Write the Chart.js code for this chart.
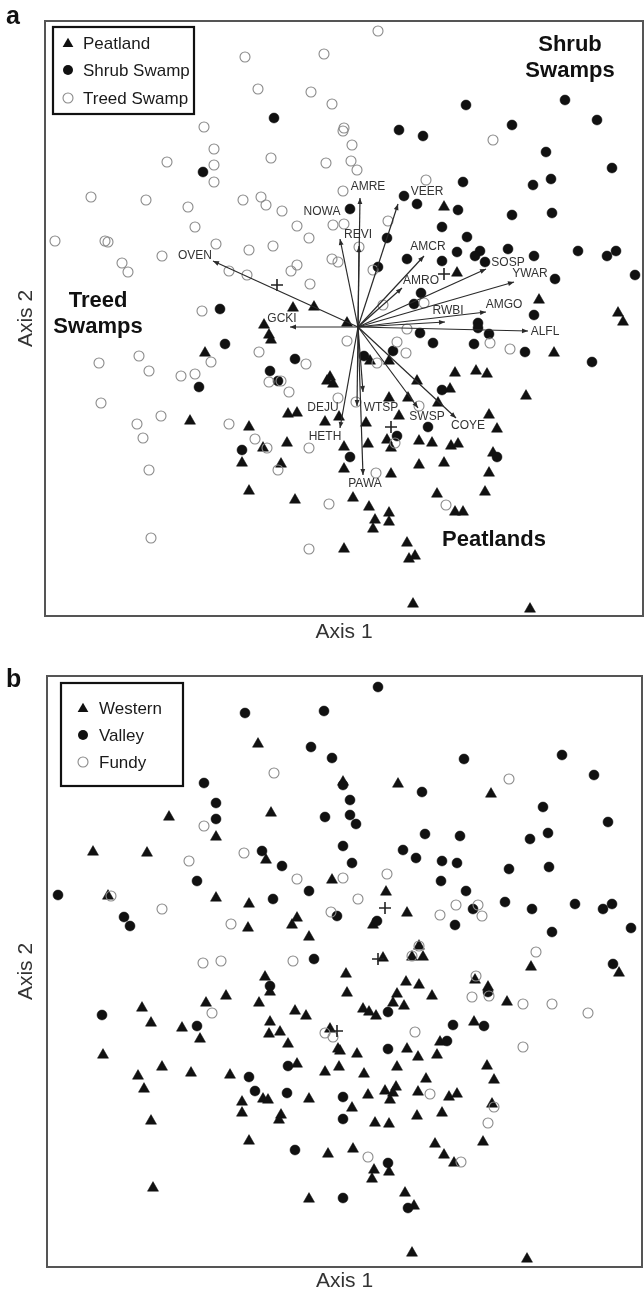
<!DOCTYPE html>
<html><head><meta charset="utf-8">
<script src="https://cdn.jsdelivr.net/npm/chart.js@4.4.1/dist/chart.umd.min.js"></script>
<style>
html,body{margin:0;padding:0;background:#fff;width:644px;height:1294px;overflow:hidden}
.wrap{position:absolute;left:0;width:644px;height:647px}
canvas{display:block}
</style></head><body>
<div class="wrap" style="top:0"><canvas id="ca" width="644" height="647"></canvas></div>
<div class="wrap" style="top:647px"><canvas id="cb" width="644" height="647"></canvas></div>
<script>
// ---------- Panel a: wetland types (ordination scores, arbitrary units) ----------
const peatland = [[24.8,30.8],[26.9,30.9],[39.9,40.9],[41.2,34.3],[49.4,31.6],[57.3,30.3],[57.8,29.4],[30.2,29.3],[21.9,29.1],[22.4,28.1],[22.6,27.6],[16.0,26.3],[28.2,23.5],[28.8,23.2],[28.5,23.9],[24.3,20.2],[25.2,20.3],[28.0,19.4],[29.4,19.9],[14.5,19.5],[20.4,18.9],[24.2,17.3],[21.8,16.8],[29.9,16.9],[19.7,15.3],[23.6,15.2],[29.9,14.7],[20.4,12.5],[25.0,11.6],[29.9,6.7],[50.9,26.3],[32.5,25.5],[34.4,25.5],[41.0,24.3],[43.1,24.5],[44.2,24.2],[37.2,23.5],[40.5,22.7],[48.1,22.0],[34.4,21.8],[36.3,21.8],[39.3,21.3],[35.4,20.0],[32.1,19.3],[44.4,20.1],[45.2,18.7],[37.4,17.5],[38.7,17.3],[40.6,17.0],[41.3,17.2],[34.2,17.6],[34.6,16.8],[32.3,17.2],[44.8,16.3],[37.4,15.1],[39.9,15.3],[34.6,14.2],[44.4,14.3],[44.0,12.4],[39.2,12.2],[30.8,11.8],[32.4,10.9],[34.4,10.3],[34.4,9.4],[33.0,9.6],[32.8,8.7],[41.0,10.4],[41.8,10.4],[36.2,7.3],[37.0,6.0],[36.4,5.7],[36.8,1.2],[48.5,0.7]];
const shrubSwamp = [[22.9,49.8],[15.8,44.4],[17.5,30.7],[30.5,40.7],[42.1,51.1],[52.0,51.6],[35.4,48.6],[37.8,48.0],[46.7,49.1],[55.2,49.6],[50.1,46.4],[56.7,44.8],[41.8,43.4],[48.8,43.1],[50.6,43.7],[46.7,40.1],[50.7,40.3],[35.9,42.0],[37.2,41.2],[41.3,40.6],[39.7,38.9],[42.2,37.9],[34.2,37.8],[33.3,34.9],[36.2,35.7],[39.7,35.5],[41.2,36.4],[43.5,36.5],[43.0,36.0],[44.0,35.4],[46.3,36.7],[48.9,36.0],[51.0,33.7],[53.3,36.5],[56.2,36.0],[57.1,36.5],[59.0,34.1],[37.6,32.3],[36.9,31.2],[48.9,30.1],[18.0,27.2],[15.4,22.9],[25.0,25.7],[22.5,24.5],[23.3,23.5],[19.7,16.6],[30.5,15.9],[43.3,29.3],[43.3,28.8],[37.5,28.3],[38.8,27.3],[44.4,28.2],[42.9,27.2],[48.0,26.4],[54.7,25.4],[34.8,26.5],[31.9,26.0],[39.7,22.6],[38.3,18.9],[35.2,18.0],[45.2,15.9]];
const treedSwamp = [[20.0,55.9],[27.9,56.2],[21.3,52.7],[26.6,52.4],[28.7,51.2],[29.9,48.8],[29.8,48.5],[30.7,47.1],[30.6,45.5],[31.2,44.6],[15.9,48.9],[16.9,46.7],[16.9,45.1],[16.9,43.4],[12.2,45.4],[22.6,45.8],[28.1,45.3],[29.8,42.5],[4.6,41.9],[10.1,41.6],[14.3,40.9],[19.8,41.6],[21.6,41.9],[22.1,41.1],[23.7,40.5],[15.0,38.9],[25.2,39.0],[26.4,37.8],[28.8,39.1],[29.9,39.2],[1.0,37.5],[6.0,37.5],[6.3,37.4],[17.1,37.2],[20.4,36.6],[22.8,37.0],[11.7,36.0],[7.7,35.3],[8.3,34.4],[18.4,34.5],[20.2,34.1],[24.6,34.5],[25.2,35.1],[26.5,33.2],[28.7,35.7],[29.3,35.4],[15.7,30.5],[33.3,58.5],[44.8,47.6],[38.1,43.6],[34.3,39.5],[31.4,36.9],[32.8,34.6],[33.8,31.1],[37.9,31.3],[5.4,25.3],[9.4,26.0],[10.4,24.5],[13.6,24.0],[15.0,24.2],[16.6,25.4],[21.4,26.4],[26.1,25.2],[22.4,23.4],[23.6,23.5],[24.4,22.4],[30.2,27.5],[29.3,21.8],[5.6,21.3],[11.6,20.0],[9.2,19.2],[9.8,17.8],[18.4,19.2],[21.0,17.7],[22.2,16.8],[26.4,16.8],[23.3,14.6],[10.4,14.6],[28.4,11.2],[10.6,7.8],[26.4,6.7],[36.2,28.7],[35.2,27.4],[36.1,26.3],[33.2,25.3],[44.5,27.3],[46.5,26.7],[31.1,21.4],[37.4,21.0],[35.0,17.3],[33.1,14.3],[40.1,11.1]];
const centroidsA = [[23.2,33.1],[39.9,34.2],[34.6,18.9]];
// species vectors (biplot): origin and tips
const vecOrigin = [31.3,28.9];
const vecNames = ["OVEN","GCKI","NOWA","REVI","AMRE","VEER","AMCR","AMRO","SOSP","YWAR","AMGO","RWBI","ALFL","WTSP","DEJU","HETH","PAWA","SWSP","COYE"];
const vecTipX = [16.8,24.5,29.5,31.4,31.5,35.3,37.9,35.7,44.1,46.9,44.1,40.0,48.3,31.8,31.2,29.5,31.8,37.3,41.1];
const vecTipY = [35.5,28.9,37.7,37.0,41.8,41.2,36.0,32.8,34.7,33.4,30.4,29.4,28.5,22.4,21.0,18.8,14.1,20.8,19.8];

// ---------- Panel b: regions ----------
const western = [[21.1,52.3],[12.2,45.0],[22.4,45.4],[16.9,43.0],[4.6,41.5],[10.0,41.4],[21.9,40.7],[28.5,38.7],[6.1,37.1],[16.9,36.9],[20.2,36.3],[25.0,34.9],[24.5,34.2],[20.1,33.9],[26.2,33.0],[29.6,48.5],[35.1,48.3],[44.4,47.3],[33.9,37.5],[36.0,35.4],[32.6,34.2],[33.6,30.9],[37.2,32.1],[36.5,31.0],[37.6,31.0],[48.4,30.0],[21.8,29.0],[22.3,27.5],[29.9,29.3],[30.0,27.4],[17.9,27.1],[15.9,26.4],[21.2,26.4],[9.5,25.9],[24.8,25.6],[25.9,25.1],[10.4,24.4],[13.5,23.9],[22.3,24.5],[22.2,23.3],[23.3,23.5],[15.3,22.8],[24.1,22.3],[28.3,23.8],[29.1,21.8],[5.6,21.2],[25.0,20.3],[29.2,20.0],[27.8,19.5],[11.5,20.0],[14.4,19.4],[18.3,19.2],[9.1,19.1],[9.7,17.8],[21.6,16.8],[22.1,16.7],[26.2,16.8],[19.5,16.5],[19.5,15.4],[23.4,15.2],[23.2,14.7],[10.4,14.6],[20.2,12.6],[28.1,11.3],[10.6,7.9],[26.2,6.8],[57.2,29.4],[35.9,28.5],[37.2,28.2],[35.0,27.3],[34.6,26.4],[35.7,26.1],[38.5,27.1],[31.6,25.8],[32.2,25.5],[32.9,25.1],[42.8,28.7],[44.1,28.0],[46.0,26.5],[42.7,24.5],[39.3,22.5],[31.0,21.3],[29.3,21.6],[36.0,21.8],[37.1,21.0],[39.0,21.2],[35.0,20.0],[31.7,19.3],[44.0,20.1],[44.7,18.7],[37.9,18.8],[33.8,17.6],[34.9,18.0],[34.6,17.4],[34.3,16.7],[32.1,17.2],[37.1,17.5],[40.2,17.0],[41.0,17.3],[30.5,15.9],[44.5,16.3],[37.0,15.1],[39.5,15.4],[32.8,14.4],[34.2,14.3],[43.6,12.5],[30.6,11.8],[38.8,12.3],[39.7,11.2],[40.7,10.4],[32.7,9.7],[32.5,8.8],[34.2,9.5],[35.8,7.4],[36.7,6.1],[36.5,1.4],[48.0,0.8]];
const valley = [[19.8,55.4],[27.7,55.6],[26.4,52.0],[28.5,50.9],[15.7,48.4],[16.9,46.4],[16.9,44.8],[27.8,45.0],[29.6,48.2],[30.3,46.7],[30.3,45.2],[30.9,44.3],[29.6,42.1],[30.5,40.4],[21.5,41.6],[23.5,40.1],[15.0,38.6],[26.2,37.6],[22.6,36.8],[1.1,37.2],[7.7,35.0],[8.3,34.1],[29.0,35.1],[26.7,30.8],[33.1,58.0],[41.7,50.8],[51.5,51.2],[54.7,49.2],[37.5,47.5],[49.6,46.0],[56.1,44.5],[37.8,43.3],[41.3,43.1],[48.3,42.8],[50.1,43.4],[35.6,41.7],[36.9,40.9],[39.5,40.6],[41.0,40.4],[46.2,39.8],[50.2,40.0],[39.4,38.6],[41.9,37.6],[45.8,36.5],[48.5,35.8],[52.8,36.3],[55.6,35.8],[56.5,36.3],[42.6,35.8],[40.8,34.2],[50.5,33.5],[58.4,33.9],[33.0,34.6],[56.6,30.3],[22.3,28.1],[5.5,25.2],[15.0,24.1],[24.1,20.1],[20.2,19.0],[20.8,17.6],[24.0,17.4],[29.6,17.0],[29.6,14.8],[24.8,11.7],[29.6,6.9],[44.1,27.5],[34.1,25.5],[40.6,24.2],[43.7,24.1],[40.0,22.6],[34.1,21.8],[34.1,10.4],[36.1,5.9]];
const fundy = [[22.7,49.4],[15.7,44.1],[19.7,41.4],[14.2,40.6],[25.0,38.8],[29.6,38.9],[6.4,37.1],[11.5,35.8],[18.4,34.3],[28.4,35.5],[15.6,30.4],[17.4,30.6],[24.6,30.6],[46.2,48.8],[34.0,39.3],[31.1,36.8],[39.3,35.2],[40.9,36.2],[43.1,36.2],[43.5,35.1],[48.9,31.5],[37.2,32.1],[36.5,31.1],[16.5,25.4],[27.8,23.4],[28.6,23.0],[42.9,29.1],[42.5,27.0],[44.2,27.1],[47.6,26.3],[50.5,26.3],[54.1,25.4],[36.8,23.5],[47.6,22.0],[38.3,17.3],[44.7,16.0],[44.1,14.4],[32.1,11.0],[41.4,10.5]];
const centroidsB = [[33.8,35.9],[33.1,30.8],[29.0,23.6]];

// ---------- styling / layout (separate from data) ----------
const FONT = '"Liberation Sans", Arial, Helvetica, sans-serif';
const labelOffsets = {OVEN:[-18,-5],GCKI:[-8,-8],NOWA:[-18,-27],REVI:[-1,-11],AMRE:[8,-11],VEER:[29,-12],AMCR:[4,-9],AMRO:[19,-7],SOSP:[22,-6],YWAR:[16,-8],AMGO:[18,-7],RWBI:[3,-11],ALFL:[17,1],WTSP:[18,16],DEJU:[-34,2],HETH:[-15,9],PAWA:[2,9],SWSP:[9,9],COYE:[12,8]};
const TRI_R = 6.4, DOT_R = 5.0, OPEN_R = 5.0;
const BLACK = '#111', GREY = '#8a8a8a';

const toPts = arr => arr.map(p => ({x:p[0], y:p[1]}));

function markerDatasets(tri, dot, open, cents){
  return [
    {label:'tri', data:toPts(tri), pointStyle:'triangle', pointRadius:TRI_R, backgroundColor:BLACK, borderColor:BLACK, borderWidth:0.5, order:6},
    {label:'dot', data:toPts(dot), pointStyle:'circle', pointRadius:DOT_R, backgroundColor:BLACK, borderColor:BLACK, borderWidth:0.5, order:5},
    {label:'open', data:toPts(open), pointStyle:'circle', pointRadius:OPEN_R, backgroundColor:'rgba(0,0,0,0)', borderColor:GREY, borderWidth:1.1, order:4},
    {label:'cent', data:toPts(cents), pointStyle:'cross', pointRadius:6, backgroundColor:'#222', borderColor:'#222', borderWidth:1.6, order:3}
  ];
}

function drawTri(ctx,x,y,r){
  ctx.beginPath();
  ctx.moveTo(x, y - r);
  ctx.lineTo(x + r*Math.sin(2*Math.PI/3), y - r*Math.cos(2*Math.PI/3));
  ctx.lineTo(x + r*Math.sin(4*Math.PI/3), y - r*Math.cos(4*Math.PI/3));
  ctx.closePath(); ctx.fill();
}

function panelPlugin(cfg){
  return {
    id:'panel_'+cfg.letter,
    beforeDraw(chart){
      const c=chart.ctx; c.save(); c.fillStyle='#fff'; c.fillRect(0,0,chart.width,chart.height); c.restore();
    },
    afterDatasetsDraw(chart){
      const c=chart.ctx, xs=chart.scales.x, ys=chart.scales.y;
      if(cfg.vectors){
        const ox=xs.getPixelForValue(vecOrigin[0]), oy=ys.getPixelForValue(vecOrigin[1]);
        c.save();
        c.fillStyle='#2a2a2a';
        vecNames.forEach((n,i)=>{
          const tx=xs.getPixelForValue(vecTipX[i]), ty=ys.getPixelForValue(vecTipY[i]);
          const a=Math.atan2(ty-oy,tx-ox), L=6, W=2.4;
          c.beginPath();
          c.moveTo(tx,ty);
          c.lineTo(tx-L*Math.cos(a)+W*Math.sin(a), ty-L*Math.sin(a)-W*Math.cos(a));
          c.lineTo(tx-L*Math.cos(a)-W*Math.sin(a), ty-L*Math.sin(a)+W*Math.cos(a));
          c.closePath(); c.fill();
        });
        c.font='12px '+FONT; c.fillStyle='#333'; c.textAlign='center'; c.textBaseline='middle';
        vecNames.forEach((n,i)=>{
          const tx=xs.getPixelForValue(vecTipX[i]), ty=ys.getPixelForValue(vecTipY[i]);
          const o=labelOffsets[n];
          c.fillText(n, tx+o[0], ty+o[1]);
        });
        c.restore();
      }
    },
    afterDraw(chart){
      const c=chart.ctx, a=chart.chartArea;
      c.save();
      // frame
      c.strokeStyle='#555'; c.lineWidth=2;
      c.strokeRect(a.left, a.top, a.right-a.left, a.bottom-a.top);
      // legend
      const L=cfg.legend;
      c.fillStyle='#fff'; c.fillRect(L.x,L.y,L.w,L.h);
      c.strokeStyle='#111'; c.lineWidth=2.2; c.strokeRect(L.x,L.y,L.w,L.h);
      c.font='17px '+FONT; c.textAlign='left'; c.textBaseline='middle';
      L.items.forEach((t,i)=>{
        const y=L.rows[i];
        if(i===0){ c.fillStyle=BLACK; drawTri(c,L.mx,y+1,6.2); }
        else if(i===1){ c.fillStyle=BLACK; c.beginPath(); c.arc(L.mx,y,5,0,2*Math.PI); c.fill(); }
        else { c.strokeStyle=GREY; c.lineWidth=1.1; c.beginPath(); c.arc(L.mx,y,5,0,2*Math.PI); c.stroke(); }
        c.fillStyle='#1a1a1a'; c.fillText(t, L.tx, y+1);
      });
      // group annotations
      c.font='bold 22px '+FONT; c.fillStyle='#111'; c.textAlign='center'; c.textBaseline='middle';
      (cfg.notes||[]).forEach(nt=>c.fillText(nt.t, nt.x, nt.y));
      // panel letter
      c.font='bold 25px '+FONT; c.textAlign='left'; c.textBaseline='alphabetic';
      c.fillText(cfg.letter, 6, cfg.letterY);
      // axis titles
      c.font='21px '+FONT; c.fillStyle='#333'; c.textAlign='center'; c.textBaseline='middle';
      c.fillText('Axis 1', (a.left+a.right)/2, cfg.ax1Y);
      c.translate(26,(a.top+a.bottom)/2); c.rotate(-Math.PI/2);
      c.fillText('Axis 2', 0, 0);
      c.restore();
    }
  };
}

function makeChart(id, datasets, xmax, ymax, pad, cfg){
  return new Chart(document.getElementById(id), {
    type:'scatter',
    data:{datasets},
    options:{
      responsive:false, animation:false, events:[],
      layout:{padding:pad, autoPadding:false},
      plugins:{legend:{display:false}, tooltip:{enabled:false}},
      scales:{
        x:{type:'linear', min:0, max:xmax, display:false},
        y:{type:'linear', min:0, max:ymax, display:false}
      }
    },
    plugins:[panelPlugin(cfg)]
  });
}

// Panel a
const vecDatasets = vecNames.map((n,i)=>({
  label:n, type:'line', data:[{x:vecOrigin[0],y:vecOrigin[1]},{x:vecTipX[i],y:vecTipY[i]}],
  showLine:true, pointRadius:0, borderColor:'#2a2a2a', borderWidth:1.2, fill:false, order:1
}));
makeChart('ca', markerDatasets(peatland, shrubSwamp, treedSwamp, centroidsA).concat(vecDatasets),
  59.8, 59.5, {left:45, right:1, top:21, bottom:31},
  {letter:'a', letterY:24, ax1Y:632, vectors:true,
   legend:{x:53,y:27,w:141,h:87, mx:68, tx:83, rows:[43,70,98], items:['Peatland','Shrub Swamp','Treed Swamp']},
   notes:[{t:'Shrub',x:570,y:45},{t:'Swamps',x:570,y:71},{t:'Treed',x:98,y:301},{t:'Swamps',x:98,y:327},{t:'Peatlands',x:494,y:540}]});

// Panel b
makeChart('cb', markerDatasets(western, valley, fundy, centroidsB),
  59.5, 59.1, {left:47, right:2, top:29, bottom:27},
  {letter:'b', letterY:40, ax1Y:634, vectors:false,
   legend:{x:61,y:36,w:122,h:103, mx:83, tx:99, rows:[61,88,115], items:['Western','Valley','Fundy']},
   notes:[]});
</script>
</body></html>
